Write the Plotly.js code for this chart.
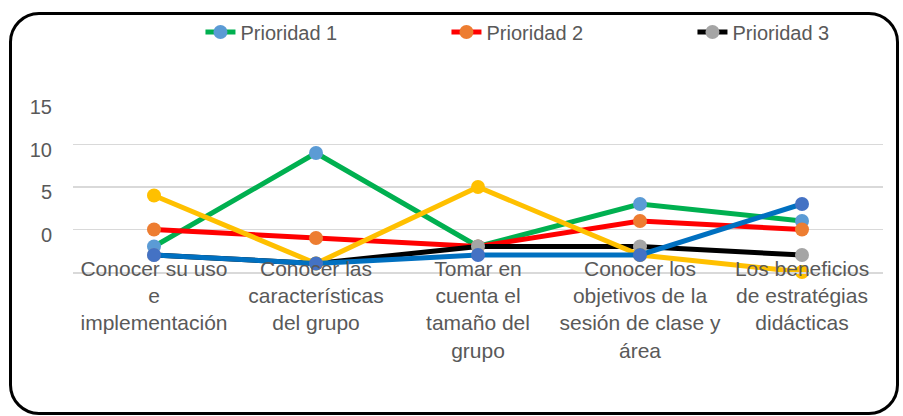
<!DOCTYPE html>
<html><head><meta charset="utf-8">
<script src="https://cdn.plot.ly/plotly-3.0.1.min.js"></script>
<style>
html,body{margin:0;padding:0;background:#fff;}
#frame{position:absolute;left:9px;top:12px;width:890px;height:403px;border:3px solid #000;border-radius:30px;box-sizing:border-box;}
#chart{position:absolute;left:0;top:0;width:903px;height:416px;}
</style></head>
<body>
<div id="frame"></div>
<div id="chart"></div>
<script>
const categories = [
  "Conocer su uso<br>e<br>implementación",
  "Conocer las<br>características<br>del grupo",
  "Tomar en<br>cuenta el<br>tamaño del<br>grupo",
  "Conocer los<br>objetivos de la<br>sesión de clase y<br>área",
  "Los beneficios<br>de estratégias<br>didácticas"
];
const prioridad1 = [-2, 9, -2, 3, 1];
const prioridad2 = [0, -1, -2, 1, 0];
const prioridad3 = [-3, -4, -2, -2, -3];
const serieAmarilla = [4, -4, 5, -3, -5];
const serieAzul = [-3, -4, -3, -3, 3];
const yTickVals = [0, 5, 10, 15];
const yGridVals = [-5, 0, 5, 10];

const font = {family: "Liberation Sans, Arial, sans-serif", color: "#595959"};
function tr(name, y, lineColor, markerColor, showlegend, yaxis) {
  return {type: "scatter", mode: "lines+markers", name: name, x: categories, y: y, yaxis: yaxis,
    line: {color: lineColor, width: 5}, marker: {color: markerColor, size: 14},
    showlegend: showlegend, cliponaxis: false};
}
const data = [
  tr("Prioridad 1", prioridad1, "#00B050", "#5B9BD5", true, "y"),
  tr("Prioridad 2", prioridad2, "#FF0000", "#ED7D31", true, "y"),
  tr("Prioridad 3", prioridad3, "#000000", "#A5A5A5", true, "y"),
  tr("Serie 4", serieAmarilla, "#FFC000", "#FFC000", false, "y"),
  tr("Serie 5", serieAzul, "#0070C0", "#4472C4", false, "y2")
];
const yRange = [-5, 15];
const layout = {
  width: 903, height: 416,
  margin: {l: 73, r: 20, t: 102, b: 144},
  paper_bgcolor: "rgba(0,0,0,0)", plot_bgcolor: "rgba(0,0,0,0)",
  font: font,
  showlegend: true,
  legend: {orientation: "h", xref: "container", yref: "container", x: 0.222, y: 0.97,
    xanchor: "left", yanchor: "top", entrywidth: 201, font: {size: 20, color: "#595959", family: font.family},
    bgcolor: "rgba(0,0,0,0)"},
  xaxis: {type: "category", range: [-0.5, 4.5], tickangle: 0, showgrid: false, zeroline: false,
    showline: true, linecolor: "#D9D9D9", linewidth: 1.5, ticks: "", ticklabelstandoff: -23,
    tickfont: {size: 21, color: "#595959", family: font.family}},
  yaxis: {range: yRange, tickvals: yTickVals, showgrid: false, zeroline: false, showline: false,
    ticks: "", ticklabelstandoff: 20, ticklabelshift: 5, tickfont: {size: 20, color: "#595959", family: font.family}},
  yaxis2: {overlaying: "y", range: yRange, tickvals: yGridVals, showticklabels: false, showgrid: true,
    gridcolor: "#D9D9D9", gridwidth: 1.5, zeroline: false, showline: false, ticks: "", side: "left"}
};
Plotly.newPlot("chart", data, layout, {displayModeBar: false, staticPlot: true});
</script>
</body></html>
